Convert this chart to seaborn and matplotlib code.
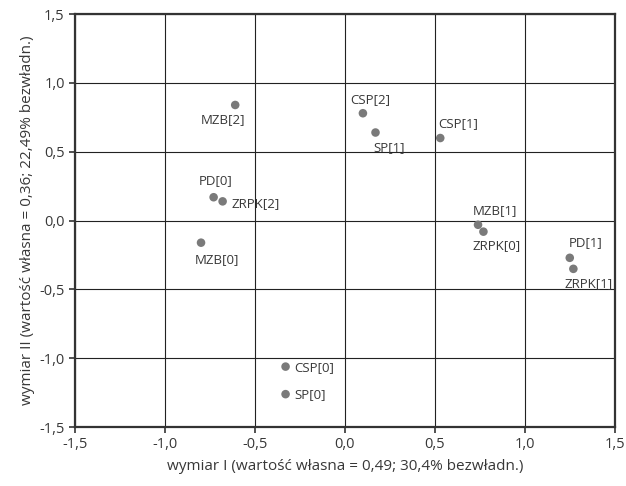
import numpy as np
import pandas as pd
import matplotlib
matplotlib.use("Agg")
import matplotlib.pyplot as plt
import seaborn as sns

# data
labels = ["MZB[2]", "PD[0]", "ZRPK[2]", "MZB[0]", "CSP[2]", "SP[1]", "CSP[1]",
          "MZB[1]", "ZRPK[0]", "PD[1]", "ZRPK[1]", "CSP[0]", "SP[0]"]
dim1 = [-0.61, -0.73, -0.68, -0.80, 0.10, 0.17, 0.53,
        0.74, 0.77, 1.25, 1.27, -0.33, -0.33]
dim2 = [0.84, 0.17, 0.14, -0.16, 0.78, 0.64, 0.60,
        -0.03, -0.08, -0.27, -0.35, -1.06, -1.26]

ticks = [-1.5, -1.0, -0.5, 0.0, 0.5, 1.0, 1.5]
tick_labels = ["-1,5", "-1,0", "-0,5", "0,0", "0,5", "1,0", "1,5"]
xlabel = "wymiar I (wartość własna = 0,49; 30,4% bezwładn.)"
ylabel = "wymiar II (wartość własna = 0,36; 22,49% bezwładn.)"

# where each label sits relative to its dot (pixels: right, down; alignment)
label_offsets = {
    "MZB[2]": (-12, 15, "center"), "PD[0]": (2, -17, "center"),
    "ZRPK[2]": (9, 2, "left"), "MZB[0]": (16, 17, "center"),
    "CSP[2]": (7, -14, "center"), "SP[1]": (14, 15, "center"),
    "CSP[1]": (18, -14, "center"), "MZB[1]": (17, -14, "center"),
    "ZRPK[0]": (13, 14, "center"), "PD[1]": (16, -15, "center"),
    "ZRPK[1]": (15, 15, "center"), "CSP[0]": (9, 1, "left"),
    "SP[0]": (9, 0, "left"),
}

df = pd.DataFrame({"label": labels, "dim1": dim1, "dim2": dim2})

sns.set_style("white")
plt.rcParams["font.family"] = ["Open Sans", "DejaVu Sans"]
text_color = "#383838"

fig, ax = plt.subplots(figsize=(6.26, 4.86), dpi=100)
fig.subplots_adjust(left=0.120, right=0.982, top=0.971, bottom=0.121)

sns.scatterplot(data=df, x="dim1", y="dim2", ax=ax, color="#7a7a7a",
                s=38, edgecolor="none", zorder=3)

for lab, x, y in zip(labels, dim1, dim2):
    dx, dy, ha = label_offsets[lab]
    ax.annotate(lab, (x, y), xytext=(dx, -dy), textcoords="offset pixels",
                ha=ha, va="center", fontsize=9.5, color=text_color)

# axes
ax.set_xlim(-1.5, 1.5)
ax.set_ylim(-1.5, 1.5)
ax.set_xticks(ticks)
ax.set_yticks(ticks)
ax.set_xticklabels(tick_labels)
ax.set_yticklabels(tick_labels)
ax.grid(True, color="#222222", lw=0.8)
ax.set_axisbelow(True)
ax.tick_params(axis="both", direction="out", length=4, width=1.2,
               colors="#333333", labelsize=10.5, labelcolor=text_color,
               bottom=True, left=True)
ax.tick_params(axis="x", pad=3)
ax.set_xlabel(xlabel, fontsize=11, color=text_color, labelpad=5)
ax.set_ylabel(ylabel, fontsize=11, color=text_color, labelpad=3)
for loc in ["top", "right", "bottom", "left"]:
    ax.spines[loc].set_visible(True)
    ax.spines[loc].set_color("#333333")
    ax.spines[loc].set_linewidth(1.6)

plt.savefig("out.png", dpi=100)
plt.close()
